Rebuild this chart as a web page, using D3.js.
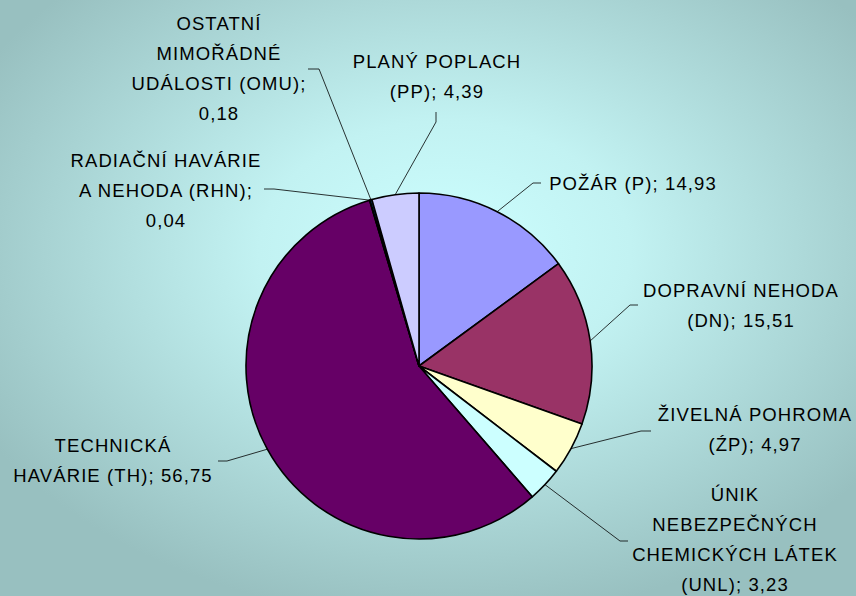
<!DOCTYPE html>
<html lang="cs">
<head>
  <meta charset="UTF-8">
  <title>Mimořádné události</title>
  <script src="https://d3js.org/d3.v7.min.js"></script>
  <style>
    body { margin: 0; padding: 0; }
    svg { display: block; }
    .lbl { font-family: 'Liberation Sans', Arial, sans-serif; font-size: 18.5px; letter-spacing: 1.1px; fill: #000; }
  </style>
</head>
<body>
  <div id="chart"></div>
  <script>
    // Data (start at 12 o'clock, clockwise)
    const categories = [
      ['POŽÁR (P); 14,93'],
      ['DOPRAVNÍ NEHODA', '(DN); 15,51'],
      ['ŽIVELNÁ POHROMA', '(ŹP); 4,97'],
      ['ÚNIK', 'NEBEZPEČNÝCH', 'CHEMICKÝCH LÁTEK', '(UNL); 3,23'],
      ['TECHNICKÁ', 'HAVÁRIE (TH); 56,75'],
      ['RADIAČNÍ HAVÁRIE', 'A NEHODA (RHN);', '0,04'],
      ['OSTATNÍ', 'MIMOŘÁDNÉ', 'UDÁLOSTI (OMU);', '0,18'],
      ['PLANÝ POPLACH', '(PP); 4,39']
    ];
    const values = [14.93, 15.51, 4.97, 3.23, 56.75, 0.04, 0.18, 4.39];
    const colors = ['#9999FF', '#993366', '#FFFFCC', '#CCFFFF', '#660066', '#FF8080', '#0066CC', '#CCCCFF'];

    // Label layout: text centre x, first baseline y, elbow point, end of leader
    const labelPos = [
      { x: 633, y: 190, elbow: [533, 183], end: [541, 183] },
      { x: 741, y: 297, elbow: [630, 305], end: [638, 305] },
      { x: 755, y: 421, elbow: [641, 431], end: [651, 431] },
      { x: 735, y: 501, elbow: [620, 541], end: [628, 541] },
      { x: 113, y: 452, elbow: [227, 461], end: [218, 461] },
      { x: 166, y: 167, elbow: [274, 189], end: [264, 189] },
      { x: 219, y: 30,  elbow: [319, 69],  end: [308, 69] },
      { x: 437, y: 68,  elbow: [436, 122], end: [436, 112] }
    ];

    const W = 856, H = 596;
    const cx = 419, cy = 366, R = 173;
    const lineH = 30;

    const svg = d3.select('#chart').append('svg')
      .attr('width', W).attr('height', H);

    const defs = svg.append('defs');
    const grad = defs.append('radialGradient')
      .attr('id', 'bg').attr('cx', '0.52').attr('cy', '0.42').attr('r', '0.62');
    grad.append('stop').attr('offset', '0').attr('stop-color', '#CCFFFF');
    grad.append('stop').attr('offset', '0.35').attr('stop-color', '#C2F2F2');
    grad.append('stop').attr('offset', '1').attr('stop-color', '#98C0C0');

    svg.append('rect').attr('width', W).attr('height', H).attr('fill', 'url(#bg)');

    const pie = d3.pie().sort(null).value(d => d);
    const arcs = pie(values);
    const arc = d3.arc().innerRadius(0).outerRadius(R);

    const g = svg.append('g').attr('transform', `translate(${cx},${cy})`);

    g.selectAll('path.slice')
      .data(arcs)
      .join('path')
      .attr('class', 'slice')
      .attr('d', arc)
      .attr('fill', (d, i) => colors[i])
      .attr('stroke', '#000')
      .attr('stroke-width', 1.6)
      .attr('stroke-linejoin', 'round');

    // leader lines from slice edge
    svg.append('g').selectAll('polyline')
      .data(arcs)
      .join('polyline')
      .attr('points', (d, i) => {
        const a = (d.startAngle + d.endAngle) / 2;
        const p = [cx + R * Math.sin(a), cy - R * Math.cos(a)];
        const lp = labelPos[i];
        return [p, lp.elbow, lp.end].map(q => q.join(',')).join(' ');
      })
      .attr('fill', 'none')
      .attr('stroke', '#000')
      .attr('stroke-width', 0.8);

    const labels = svg.append('g').selectAll('text')
      .data(categories)
      .join('text')
      .attr('class', 'lbl')
      .attr('text-anchor', 'middle')
      .attr('x', (d, i) => labelPos[i].x)
      .attr('y', (d, i) => labelPos[i].y);

    labels.selectAll('tspan')
      .data((d, i) => d.map(t => ({ t, i })))
      .join('tspan')
      .attr('x', d => labelPos[d.i].x)
      .attr('dy', (d, j) => j === 0 ? 0 : lineH)
      .text(d => d.t);
  </script>
</body>
</html>
